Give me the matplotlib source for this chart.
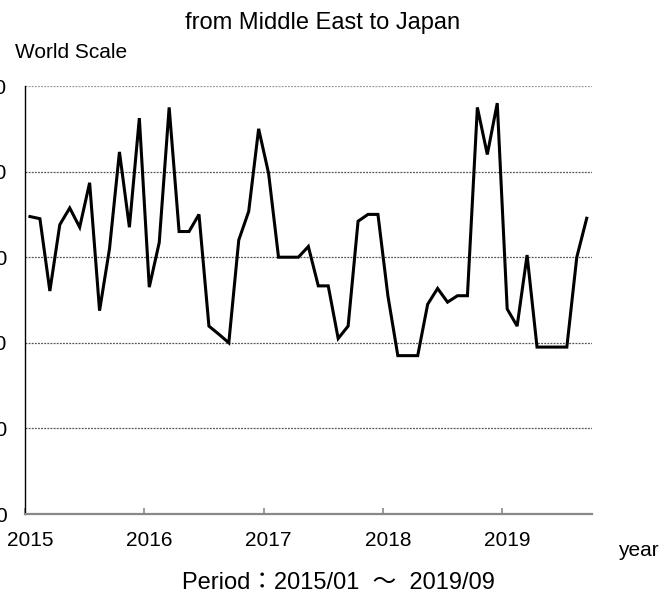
import matplotlib
matplotlib.use("Agg")
import matplotlib.pyplot as plt
import numpy as np

plt.rcParams['font.family'] = ['Liberation Sans', 'Noto Sans CJK JP', 'DejaVu Sans']

# Monthly values 2015/01 .. 2019/09 (World Scale)
values = [69.5, 69.0, 52.1, 67.6, 71.5, 67.0, 77.4, 47.5, 62.0, 84.6,
          67.0, 92.5, 53.0, 63.4, 95.0, 66.0, 66.0, 70.0, 43.9, 42.0,
          40.0, 64.0, 70.7, 90.0, 79.6, 60.0, 60.0, 60.0, 62.5, 53.3,
          53.3, 41.0, 43.9, 68.4, 70.0, 70.0, 51.0, 37.0, 37.0, 37.0,
          49.0, 52.7, 49.5, 51.0, 51.0, 95.0, 84.0, 96.0, 47.9, 43.9,
          60.5, 39.0, 39.0, 39.0, 39.0, 60.0, 69.1]
year_labels = ['2015', '2016', '2017', '2018', '2019']
y_ticks = [0, 20, 40, 60, 80, 100]

fig = plt.figure(figsize=(6.65, 5.94), dpi=100)
ax = fig.add_axes([25/665, 1-514/594, (591.7-25)/665, (514-86)/594])

x = np.arange(len(values)) + 0.5
ax.plot(x, values, color='black', linewidth=2.2, solid_joinstyle='miter', zorder=3)

ax.set_xlim(0, len(values))
ax.set_ylim(0, 100)

for v in y_ticks[1:]:
    ax.axhline(v, color='#555555' if v < 100 else '#999999', linewidth=0.9,
               linestyle=(0, (1.5, 1)), zorder=1)

ax.set_yticks(y_ticks)
ax.set_yticklabels([str(v) for v in y_ticks], fontsize=15)
ax.tick_params(axis='y', length=0, pad=13)

major = [12 * i for i in range(len(year_labels))]
ax.set_xticks(major)
ax.set_xticklabels([])
ax.set_xticks([m + 0.5 for m in major], minor=True)
ax.set_xticklabels(year_labels, minor=True, fontsize=15)
ax.tick_params(axis='x', which='major', direction='in', length=4, color='#888888', width=1.2)
ax.tick_params(axis='x', which='minor', length=0, pad=12)

for s in ['top', 'right']:
    ax.spines[s].set_visible(False)
ax.spines['left'].set_color('black')
ax.spines['left'].set_linewidth(1.0)
ax.spines['bottom'].set_color('#888888')
ax.spines['bottom'].set_linewidth(1.6)

fig.text(323/665, 1-23/594, 'from Middle East to Japan', ha='center', va='center', fontsize=17)
fig.text(15/665, 1-52/594, 'World Scale', ha='left', va='center', fontsize=15)
fig.text(618/665, 1-551/594, 'year', ha='left', va='center', fontsize=15)
fig.text(338/665, 1-583/594, 'Period：2015/01  ～  2019/09', ha='center', va='center', fontsize=17)

fig.savefig('out.png', dpi=100)
